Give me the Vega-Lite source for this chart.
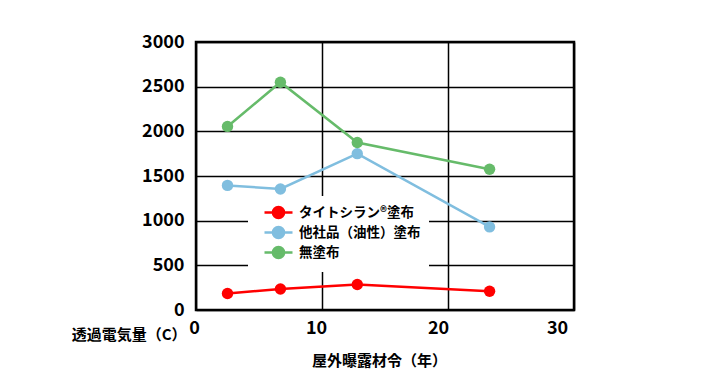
{
  "$schema": "https://vega.github.io/schema/vega-lite/v6.json",
  "width": 378,
  "height": 268,
  "autosize": {"type": "none"},
  "padding": {"left": 196, "top": 42, "right": 136, "bottom": 81},
  "background": "white",
  "config": {
    "font": "Noto Sans CJK JP",
    "view": {"stroke": "black", "strokeWidth": 2.5},
    "axis": {
      "domain": false,
      "ticks": false,
      "grid": true,
      "gridColor": "black",
      "gridWidth": 1.5,
      "gridOpacity": 1,
      "labelFont": "Noto Sans CJK JP",
      "labelFontWeight": "bold",
      "labelFontSize": 18,
      "labelColor": "black",
      "labelFlush": false,
      "titleFont": "Noto Sans CJK JP",
      "titleFontWeight": "bold",
      "titleFontSize": 15,
      "titleColor": "black"
    }
  },
  "data": {
    "values": [
      {"series": "タイトシラン®塗布", "year": 2.5, "value": 185},
      {"series": "タイトシラン®塗布", "year": 6.7, "value": 235},
      {"series": "タイトシラン®塗布", "year": 12.8, "value": 285},
      {"series": "タイトシラン®塗布", "year": 23.3, "value": 210},
      {"series": "他社品（油性）塗布", "year": 2.5, "value": 1395},
      {"series": "他社品（油性）塗布", "year": 6.7, "value": 1355},
      {"series": "他社品（油性）塗布", "year": 12.8, "value": 1750},
      {"series": "他社品（油性）塗布", "year": 23.3, "value": 930},
      {"series": "無塗布", "year": 2.5, "value": 2055},
      {"series": "無塗布", "year": 6.7, "value": 2550},
      {"series": "無塗布", "year": 12.8, "value": 1875},
      {"series": "無塗布", "year": 23.3, "value": 1575}
    ]
  },
  "mark": {"type": "line", "strokeWidth": 2.5, "point": {"filled": true, "size": 130, "opacity": 1}},
  "encoding": {
    "x": {
      "field": "year",
      "type": "quantitative",
      "scale": {"domain": [0, 30], "nice": false},
      "axis": {
        "values": [0, 10, 20, 30],
        "format": "d",
        "title": "屋外曝露材令（年）",
        "labelPadding": 9,
        "labelOffset": {
          "condition": [
            {"test": "datum.value == 0", "value": -2},
            {"test": "datum.value == 10", "value": -6},
            {"test": "datum.value == 20", "value": -10}
          ],
          "value": -17
        },
        "titleX": 183,
        "titleY": 50,
        "titleBaseline": "middle",
        "titleAlign": "center"
      }
    },
    "y": {
      "field": "value",
      "type": "quantitative",
      "scale": {"domain": [0, 3000], "nice": false},
      "axis": {
        "values": [0, 500, 1000, 1500, 2000, 2500, 3000],
        "format": "d",
        "title": "透過電気量（C）",
        "titleAngle": 0,
        "titleAlign": "right",
        "titleBaseline": "middle",
        "titleX": -10,
        "titleY": 292,
        "labelPadding": 12
      }
    },
    "color": {
      "field": "series",
      "type": "nominal",
      "scale": {
        "domain": ["タイトシラン®塗布", "他社品（油性）塗布", "無塗布"],
        "range": ["#ff0000", "#80bedf", "#66bb6a"]
      },
      "legend": {
        "title": null,
        "orient": "none",
        "legendX": 52,
        "legendY": 154,
        "fillColor": "white",
        "padding": 8,
        "symbolType": "M0,0H4M1.2,0A0.8,0.8 0 1,0 2.8,0A0.8,0.8 0 1,0 1.2,0Z",
        "symbolSize": 196,
        "symbolStrokeWidth": 2.5,
        "labelOffset": 26,
        "labelFont": "Noto Sans CJK JP",
        "labelFontSize": 13.5,
        "labelFontWeight": "bold",
        "labelColor": "black",
        "rowPadding": -3,
        "encode": {
          "symbols": {
            "update": {
              "fill": {"scale": "color", "field": "value"},
              "stroke": {"scale": "color", "field": "value"},
              "opacity": {"value": 1}
            }
          }
        }
      }
    }
  }
}
